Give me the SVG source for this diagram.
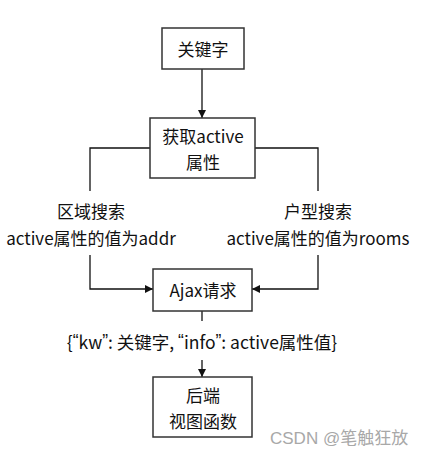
<svg xmlns="http://www.w3.org/2000/svg" width="422" height="456" viewBox="0 0 422 456">
<style>
.box{fill:#fff;stroke:#333;stroke-width:1.5}
.t{font-family:"Noto Sans CJK SC","Noto Sans",sans-serif;font-size:17px;fill:#111;text-anchor:middle;dominant-baseline:central}
.q{font-family:"Liberation Sans",sans-serif}
.line{fill:none;stroke:#111;stroke-width:1.3}
.wm{font-family:"Liberation Sans","Noto Sans CJK SC",sans-serif;font-size:17px;fill:#a8a8a8;dominant-baseline:central}
</style>
<defs>
<marker id="ah" viewBox="0 0 10 10" refX="10" refY="5" markerWidth="8" markerHeight="8" markerUnits="userSpaceOnUse" orient="auto">
<path d="M0,0 L10,5 L0,10 Z" fill="#111"/>
</marker>
</defs>
<rect width="422" height="456" fill="#fff"/>
<g id="connectors">
<line class="line" x1="202" y1="69" x2="202" y2="118" marker-end="url(#ah)"/>
<polyline class="line" points="150,148 90,148 90,191"/>
<polyline class="line" points="255,148 318,148 318,191"/>
<polyline class="line" points="90,255 90,289 153,289" marker-end="url(#ah)"/>
<polyline class="line" points="318,255 318,289 252,289" marker-end="url(#ah)"/>
<line class="line" x1="202" y1="311" x2="202" y2="321"/>
<line class="line" x1="202" y1="360" x2="202" y2="377" marker-end="url(#ah)"/>
</g>
<g id="n-keyword">
<rect class="box" x="162" y="28" width="82" height="41"/>
<text class="t" x="203" y="48">关键字</text>
</g>
<g id="n-getactive">
<rect class="box" x="150" y="118" width="105" height="60"/>
<text class="t" x="203" y="135">获取active</text>
<text class="t" x="203" y="161">属性</text>
</g>
<g id="n-area">
<text class="t" x="91" y="210">区域搜索</text>
<text class="t" x="91" y="237">active属性的值为addr</text>
</g>
<g id="n-type">
<text class="t" x="318" y="210">户型搜索</text>
<text class="t" x="318" y="237">active属性的值为rooms</text>
</g>
<g id="n-ajax">
<rect class="box" x="153" y="269" width="99" height="42"/>
<text class="t" x="203" y="289">Ajax请求</text>
</g>
<g id="n-payload">
<text class="t" x="202" y="341" style="font-size:17.5px">{<tspan class="q">“</tspan>kw<tspan class="q">”</tspan>: 关键字, <tspan class="q">“</tspan>info<tspan class="q">”</tspan>: active属性值}</text>
</g>
<g id="n-backend">
<rect class="box" x="153" y="377" width="99" height="60"/>
<text class="t" x="203" y="394">后端</text>
<text class="t" x="203" y="420">视图函数</text>
</g>
<text class="wm" x="270" y="438">CSDN @笔触狂放</text>
</svg>
